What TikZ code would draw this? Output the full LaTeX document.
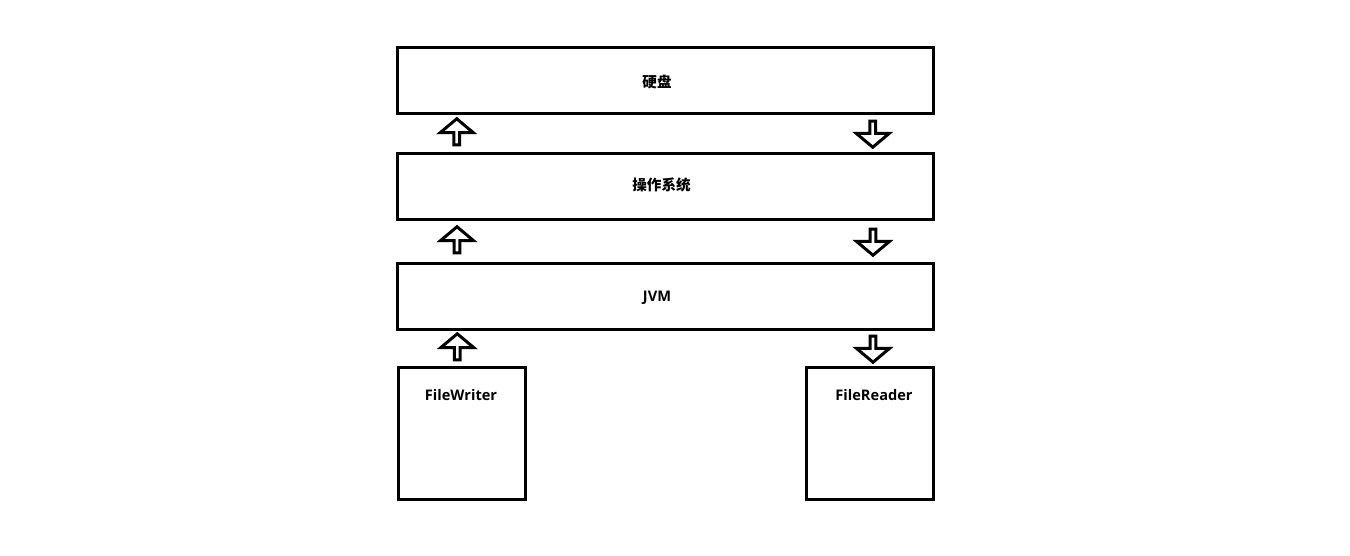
\documentclass[tikz,border=0pt]{standalone}
\usepackage{fontspec}
\setmainfont{Open Sans}
\newfontfamily\cjk{Noto Sans CJK SC}
\usetikzlibrary{shapes.arrows,calc}

\tikzset{
    layerbox/.style={draw,line width=3pt,inner sep=0,minimum width=536pt,minimum height=66pt},
    streambox/.style={draw,line width=3pt,inner sep=0,minimum width=127pt,minimum height=132pt},
    boxtext/.style={inner sep=0,font=\bfseries\fontsize{14.6pt}{16pt}\selectfont},
    flowarrow/.style={single arrow,draw,line width=3pt,inner sep=0,minimum height=26pt,minimum width=33pt,single arrow head extend=7pt,single arrow tip angle=100,line join=miter}
}

\begin{document}
\begin{tikzpicture}[x=1pt,y=-1pt]
    \pgfmathsetmacro{\leftarrowx}{61}
    \pgfmathsetmacro{\rightarrowx}{-62}
    \useasboundingbox (0,0) rectangle (1350,555);
    \node[layerbox](disk) at (665,80){};
    \node[layerbox](os) at (665.5,186){};
    \node[layerbox](jvm) at (665.5,296){};
    \node[streambox](writer) at (461.5,433){};
    \node[streambox](reader) at (870,433){};
    \node[boxtext](disktext) at (657,82){\cjk 硬盘};
    \node[boxtext](ostext) at (661.5,185){\cjk 操作系统};
    \node[boxtext](jvmtext) at (657,298){JVM};
    \node[boxtext](writertext) at (461,395){FileWriter};
    \node[boxtext](readertext) at (874,395){FileReader};
    % write path goes up on the left, read path comes down on the right
    \node[flowarrow,rotate=90](up1) at ($($(disk.south west)!.5!(os.north west)$)+(\leftarrowx,0)$){};
    \node[flowarrow,rotate=90](up2) at ($($(os.south west)!.5!(jvm.north west)$)+(\leftarrowx,0)$){};
    \node[flowarrow,rotate=90](up3) at ($($(jvm.south west)!.5!(writer.north west)$)+(\leftarrowx,0)$){};
    \node[flowarrow,rotate=-90](down1) at ($($(disk.south east)!.5!(os.north east)$)+(\rightarrowx,0)$){};
    \node[flowarrow,rotate=-90](down2) at ($($(os.south east)!.5!(jvm.north east)$)+(\rightarrowx,0)$){};
    \node[flowarrow,rotate=-90](down3) at ($($(jvm.south east)!.5!(reader.north east)$)+(\rightarrowx,0)$){};
\end{tikzpicture}
\end{document}
